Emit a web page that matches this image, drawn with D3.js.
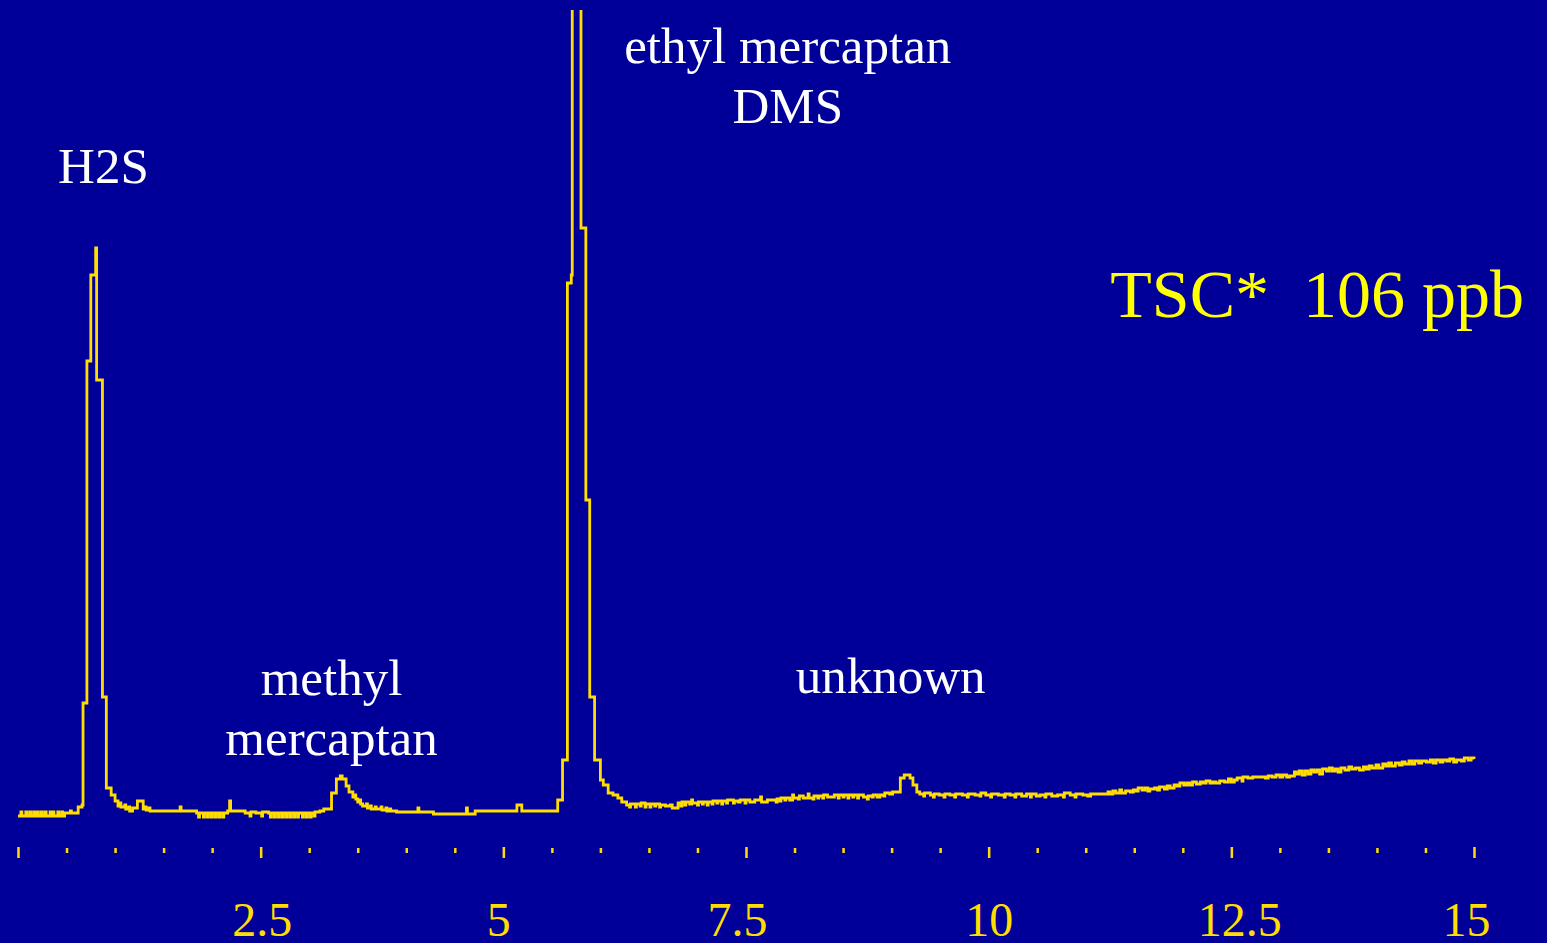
<!DOCTYPE html>
<html>
<head>
<meta charset="utf-8">
<script src="https://cdn.jsdelivr.net/npm/d3@7"></script>
<style>
  html, body { margin: 0; padding: 0; background: #000099; overflow: hidden; }
  svg { display: block; }
</style>
</head>
<body>
<svg id="chart" width="1547" height="943"></svg>
<script>
// Sulfur chromatogram: [retention time (min), detector signal (counts)]
const leadIn = [
  [0,-4],[0.03,0],[0.04,-4],[0.08,0],[0.09,-4],[0.12,0],[0.13,-4],[0.16,0],[0.18,-4],
  [0.20,0],[0.21,-4],[0.24,0],[0.25,-4],[0.28,0],[0.29,-4],[0.33,0],[0.34,-4],[0.36,0],
  [0.37,-4],[0.41,0],[0.42,-4],[0.45,0],[0.46,-4],[0.48,-1],[0.54,1],[0.55,-1],[0.62,5]
];
const h2sPeak = [
  [0.66,7],[0.67,109],[0.71,451],[0.75,537],[0.80,564],[0.81,432],[0.87,115],[0.91,24],
  [0.96,17],[1.00,11],[1.03,6],[1.05,9],[1.06,5],[1.10,7],[1.11,3],[1.14,5],[1.15,1],
  [1.18,4],[1.23,11],[1.29,3],[1.31,5],[1.32,2],[1.35,4],[1.36,1]
];
const midBaseline = [
  [1.67,5],[1.68,1],[1.84,-1],[1.86,-5],[1.87,-1],[1.91,-5],[1.92,-1],[1.95,-5],[1.96,-1],
  [1.99,-5],[2.00,-1],[2.03,-5],[2.04,-1],[2.07,-5],[2.08,-1],[2.11,-5],[2.12,-1],[2.16,1],
  [2.18,11],[2.19,1],[2.34,-1],[2.39,-4],[2.40,0],[2.45,-1],[2.51,-4],[2.52,0],[2.58,-1],
  [2.60,-5],[2.61,-1],[2.64,-5],[2.65,-1],[2.68,-5],[2.69,-1],[2.72,-5],[2.73,-1],[2.76,-5],
  [2.77,-1],[2.80,-5],[2.81,-1],[2.84,-5],[2.85,-1],[2.88,-5],[2.89,-1],[2.93,-5],[2.94,-1],
  [2.97,-5],[2.98,-1],[3.01,-5],[3.02,-1],[3.05,-4],[3.06,0],[3.11,1],[3.15,3]
];
const methylPeak = [
  [3.23,19],[3.28,33],[3.32,36],[3.34,33],[3.38,26],[3.41,20],[3.45,15],[3.47,17],[3.48,13],
  [3.50,10],[3.52,12],[3.53,8],[3.55,6],[3.59,8],[3.60,4],[3.63,6],[3.64,3],[3.68,5],[3.69,3],
  [3.74,5],[3.75,2],[3.79,4],[3.80,1],[3.83,3],[3.84,1],[3.90,0],[4.12,4],[4.13,0],[4.28,-2],
  [4.62,4],[4.63,-2],[4.71,1],[5.14,7],[5.19,1]
];
const dmsPeak = [
  [5.56,12],[5.61,52],[5.66,529],[5.70,537],[5.71,900],[5.80,584],[5.85,312],[5.89,115],
  [5.94,52],[6.00,32],[6.03,27],[6.08,19],[6.13,17],[6.18,14],[6.22,10],[6.27,7]
];
const midTrace = [
  [6.30,5],[6.31,8],[6.36,5],[6.37,8],[6.41,6],[6.42,9],[6.46,5],[6.47,8],[6.51,5],[6.52,8],
  [6.56,6],[6.57,8],[6.61,5],[6.62,7],[6.67,6],[6.72,7],[6.74,4],[6.80,9],[6.83,6],[6.84,10],
  [6.87,7],[6.88,10],[6.92,8],[6.94,12],[6.95,9],[7.00,7],[7.01,10],[7.05,8],[7.06,10],
  [7.10,7],[7.11,10],[7.15,8],[7.16,11],[7.20,9],[7.21,11],[7.25,8],[7.26,11],[7.30,9],
  [7.31,12],[7.37,9],[7.38,11],[7.42,10],[7.44,12],[7.49,9],[7.50,12],[7.54,10],[7.59,12],
  [7.65,15],[7.66,10],[7.72,12],[7.81,10],[7.82,13],[7.85,11],[7.86,14],[7.90,12],[7.91,14],
  [7.95,12],[7.98,17],[7.99,14],[8.04,13],[8.05,16],[8.09,14],[8.14,18],[8.15,14],[8.19,13],
  [8.20,16],[8.24,14],[8.25,16],[8.29,14],[8.30,17],[8.34,15],[8.41,17],[8.45,14],[8.46,17],
  [8.50,15],[8.51,17],[8.55,14],[8.56,17],[8.60,15],[8.61,17],[8.65,14],[8.66,17],[8.71,15],
  [8.75,13],[8.76,16],[8.80,15],[8.81,17],[8.85,15],[8.88,17],[8.92,16],[8.93,19],[8.98,18],
  [9.01,20]
];
const unknownPeak = [
  [9.09,34],[9.13,37],[9.19,34],[9.22,27],[9.26,20],[9.29,18]
];
const lateTrace = [
  [9.33,16],[9.34,19],[9.40,17],[9.43,15],[9.44,18],[9.49,17],[9.54,15],[9.55,18],[9.60,17],
  [9.65,15],[9.66,18],[9.73,17],[9.78,15],[9.79,18],[9.86,17],[9.91,16],[9.92,19],[9.97,17],
  [10.02,15],[10.03,18],[10.10,17],[10.16,15],[10.17,18],[10.22,17],[10.27,15],[10.28,18],
  [10.34,16],[10.39,18],[10.43,15],[10.44,18],[10.49,16],[10.53,17],[10.58,15],[10.59,18],
  [10.65,16],[10.71,17],[10.77,15],[10.78,19],[10.84,17],[10.89,15],[10.90,18],[10.97,17],
  [11.02,16],[11.05,18],[11.23,20],[11.25,18],[11.28,21],[11.31,19],[11.35,22],[11.37,19],
  [11.41,21],[11.46,20],[11.49,22],[11.52,21],[11.54,24],[11.58,22],[11.61,24],[11.64,21],
  [11.66,23],[11.71,24],[11.74,22],[11.76,25],[11.81,23],[11.84,26],[11.87,24],[11.91,27],
  [11.94,26],[11.97,29],[12.01,27],[12.04,29],[12.07,27],[12.10,30],[12.14,28],[12.18,30],
  [12.21,29],[12.24,31],[12.28,29],[12.31,30],[12.34,29],[12.38,31],[12.43,30],[12.47,33],
  [12.50,30],[12.53,32],[12.56,34],[12.61,31],[12.62,35],[12.67,34],[12.72,35],[12.85,34],
  [12.88,36],[12.92,35],[12.96,37],[13.00,35],[13.03,37],[13.07,35],[13.10,36],[13.15,40],
  [13.17,38],[13.20,41],[13.23,37],[13.26,41],[13.29,38],[13.32,42],[13.35,40],[13.38,42],
  [13.41,38],[13.44,43],[13.48,41],[13.51,44],[13.54,41],[13.57,43],[13.60,40],[13.63,44],
  [13.67,42],[13.71,45],[13.74,43],[13.78,44],[13.82,42],[13.86,45],[13.89,43],[13.92,46],
  [13.95,44],[13.99,47],[14.02,44],[14.06,48],[14.09,46],[14.12,49],[14.15,46],[14.19,49],
  [14.23,47],[14.26,50],[14.29,48],[14.33,51],[14.36,48],[14.39,51],[14.43,49],[14.46,51],
  [14.51,50],[14.55,52],[14.58,49],[14.61,52],[14.65,50],[14.68,52],[14.72,51],[14.75,53],
  [14.79,50],[14.82,52],[14.87,51],[14.90,54],[14.94,52],[14.97,54],[15.00,53]
];

// Axis ticks and labels (minutes)
const tickValues = [0,0.5,1,1.5,2,2.5,3,3.5,4,4.5,5,5.5,6,6.5,7,7.5,8,8.5,9,9.5,10,10.5,11,11.5,12,12.5,13,13.5,14,14.5,15];
const majorTicks = [0,2.5,5,7.5,10,12.5,15];
const labelTicks = [2.5,5,7.5,10,12.5,15];
const tickLabels = ["2.5","5","7.5","10","12.5","15"];

// Compound annotations
const peakNames = [["H2S"], ["ethyl mercaptan","DMS"], ["methyl","mercaptan"], ["unknown"]];
const peakTimes = [0.88, 7.93, 3.23, 8.99];
const totalText = "TSC*  106 ppb";

const trace = [].concat(leadIn, h2sPeak, midBaseline, methylPeak, dmsPeak, midTrace, unknownPeak, lateTrace);

// ---- drawing ----
const W = 1547, H = 943;
const gold = "#FFDD00";
const serif = "'Liberation Serif','Times New Roman',Times,serif";
const svg = d3.select("#chart");

svg.append("rect").attr("width", W).attr("height", H).attr("fill", "#000099");

const x = d3.scaleLinear().domain([0, 15]).range([18, 1474]);
const y = d3.scaleLinear().domain([0, 800]).range([812, 12]);

svg.append("clipPath").attr("id", "plotClip")
  .append("rect").attr("x", 0).attr("y", 10).attr("width", W).attr("height", 860);

const line = d3.line()
  .x(d => x(d[0]))
  .y(d => y(d[1]))
  .curve(d3.curveStepAfter);

svg.append("path")
  .datum(trace)
  .attr("clip-path", "url(#plotClip)")
  .attr("fill", "none")
  .attr("stroke", gold)
  .attr("stroke-width", 2.8)
  .attr("stroke-linejoin", "miter")
  .attr("d", line);

// Minor ticks every 0.5 min
const axisY = 847;
const minorAxis = svg.append("g")
  .attr("transform", `translate(0,${axisY + 1})`)
  .call(d3.axisBottom(x)
    .tickValues(tickValues.filter(v => !majorTicks.includes(v)))
    .tickSize(5)
    .tickFormat(""));
minorAxis.select(".domain").remove();
minorAxis.selectAll(".tick line").attr("stroke", gold).attr("stroke-width", 2.5);

// Major ticks with labels
const labelNudge = {2.5: 1, 5: -5, 7.5: -9, 10: 0, 12.5: 8, 15: -8};
const majorAxis = svg.append("g")
  .attr("transform", `translate(0,${axisY})`)
  .call(d3.axisBottom(x)
    .tickValues(majorTicks)
    .tickSize(11)
    .tickFormat(v => {
      const i = labelTicks.indexOf(v);
      return i >= 0 ? tickLabels[i] : "";
    }));
majorAxis.select(".domain").remove();
majorAxis.selectAll(".tick line").attr("stroke", gold).attr("stroke-width", 2.5);
majorAxis.selectAll(".tick text")
  .attr("fill", gold)
  .attr("font-family", serif)
  .attr("font-size", 48)
  .attr("y", 89)
  .attr("dy", 0)
  .attr("dx", v => labelNudge[v] || 0);

// Peak annotations
const labelTops = [183, 63, 695, 693];
const lineGap = 60;
peakNames.forEach((lines, i) => {
  const t = svg.append("text")
    .attr("text-anchor", "middle")
    .attr("fill", "#ffffff")
    .attr("font-family", serif)
    .attr("font-size", 51);
  lines.forEach((s, j) => {
    t.append("tspan")
      .attr("x", x(peakTimes[i]))
      .attr("y", labelTops[i] + j * lineGap)
      .text(s);
  });
});

// Total sulfur
svg.append("text")
  .attr("x", 1524)
  .attr("y", 317)
  .attr("text-anchor", "end")
  .attr("fill", "#FFFF00")
  .attr("font-family", serif)
  .attr("font-size", 68)
  .style("white-space", "pre")
  .text(totalText);
</script>
</body>
</html>
